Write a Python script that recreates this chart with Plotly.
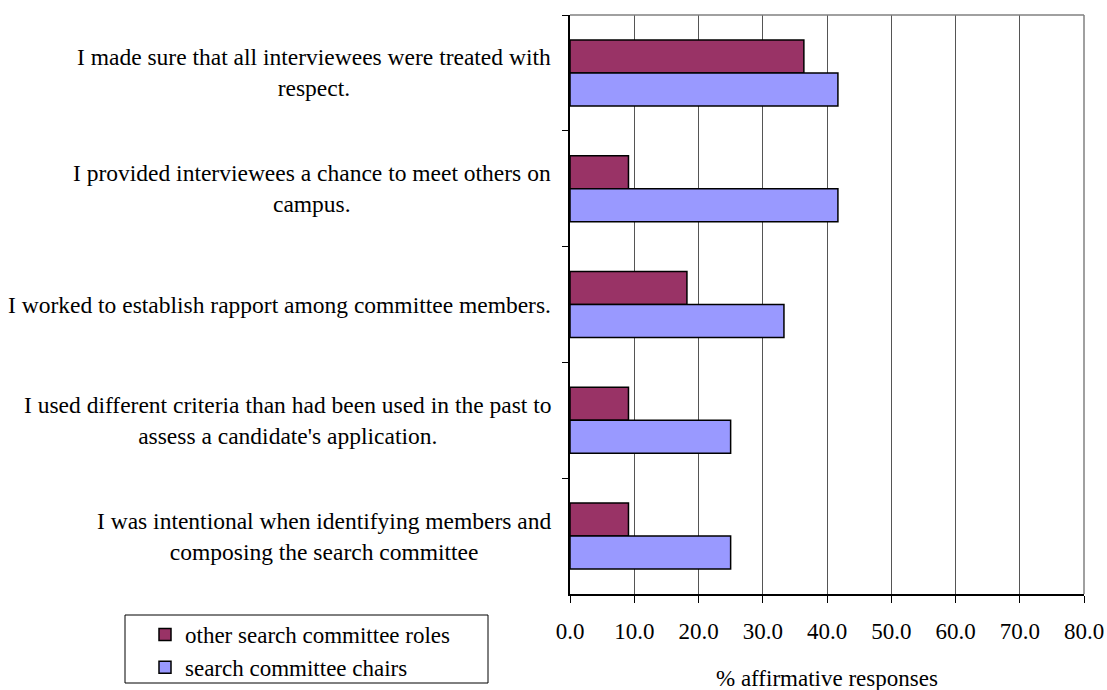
import plotly.graph_objects as go

# Survey items, listed top to bottom
categories = [
    "I made sure that all interviewees were treated with<br>respect.",
    "I provided interviewees a chance to meet others on<br>campus.",
    "I worked to establish rapport among committee members.",
    "I used different criteria than had been used in the past to<br>assess a candidate's application.",
    "I was intentional when identifying members and<br>composing the search committee",
]
other_roles = [36.4, 9.1, 18.2, 9.1, 9.1]
chairs = [41.7, 41.7, 33.3, 25.0, 25.0]
series_names = ["other search committee roles", "search committee chairs"]
x_ticks = [0, 10, 20, 30, 40, 50, 60, 70, 80]
x_title = "% affirmative responses"

W, H = 1107, 690
M_L, M_R, M_T, M_B = 570, 23, 15, 96
FONT = "Liberation Serif"
FS = 23

fig = go.Figure()
fig.add_trace(go.Bar(
    y=categories, x=other_roles, name=series_names[0], orientation="h",
    marker=dict(color="#993366", line=dict(color="#000000", width=1.5)),
    legendgroup="a",
))
fig.add_trace(go.Bar(
    y=categories, x=chairs, name=series_names[1], orientation="h",
    marker=dict(color="#9999FF", line=dict(color="#000000", width=1.5)),
    legendgroup="b",
))

pw = W - M_L - M_R
ph = H - M_T - M_B


def px_x(v):
    return (v - M_L) / pw


def px_y(v):
    return 1 - (v - M_T) / ph


# Category labels: right-aligned block, centred lines
label_right_px = 553
for cat in categories:
    fig.add_annotation(
        text=cat, xref="paper", yref="y", x=px_x(label_right_px), y=cat,
        xanchor="right", yanchor="middle", align="center", showarrow=False,
        font=dict(family=FONT, size=23.5, color="#000000"),
    )

# Legend frame
fig.add_shape(type="rect", xref="paper", yref="paper",
              x0=px_x(125), x1=px_x(488), y0=px_y(683), y1=px_y(615),
              line=dict(color="#000000", width=1), fillcolor="rgba(0,0,0,0)")

# Axis title
fig.add_annotation(
    text=x_title, xref="paper", yref="paper", x=0.5, y=px_y(678),
    xanchor="center", yanchor="middle", showarrow=False,
    font=dict(family=FONT, size=FS, color="#000000"),
)

fig.update_layout(
    width=W, height=H,
    margin=dict(l=M_L, r=M_R, t=M_T, b=M_B, pad=0, autoexpand=False),
    paper_bgcolor="#ffffff", plot_bgcolor="#ffffff",
    barmode="group", bargap=0.43, bargroupgap=0,
    font=dict(family=FONT, size=FS, color="#000000"),
    showlegend=True,
    legend=dict(
        xref="container", yref="container",
        x=145 / W, y=1 - 613 / H, xanchor="left", yanchor="top",
        bgcolor="rgba(0,0,0,0)", borderwidth=0, tracegroupgap=0,
        font=dict(family=FONT, size=FS, color="#000000"),
    ),
    xaxis=dict(
        range=[0, 80], tickvals=x_ticks, ticktext=[f"{v:.1f}" for v in x_ticks],
        showgrid=True, gridcolor="#555555", gridwidth=1,
        showline=True, linecolor="#000000", linewidth=1.5, mirror=False,
        ticks="outside", ticklen=7, tickcolor="#000000", tickwidth=1,
        zeroline=False, automargin=False,
        ticklabelstandoff=9,
    ),
    yaxis=dict(
        autorange="reversed", showticklabels=False,
        showline=True, linecolor="#000000", linewidth=1.5,
        ticks="outside", ticklen=6, tickcolor="#000000", tickson="boundaries",
        showgrid=False, zeroline=False, automargin=False,
    ),
)

# Top and right frame lines
fig.add_shape(type="line", xref="paper", yref="paper", x0=0, x1=1, y0=1, y1=1,
              line=dict(color="#808080", width=1.5))
fig.add_shape(type="line", xref="paper", yref="paper", x0=1, x1=1, y0=0, y1=1,
              line=dict(color="#808080", width=1.5))

fig.write_html("out.html")
